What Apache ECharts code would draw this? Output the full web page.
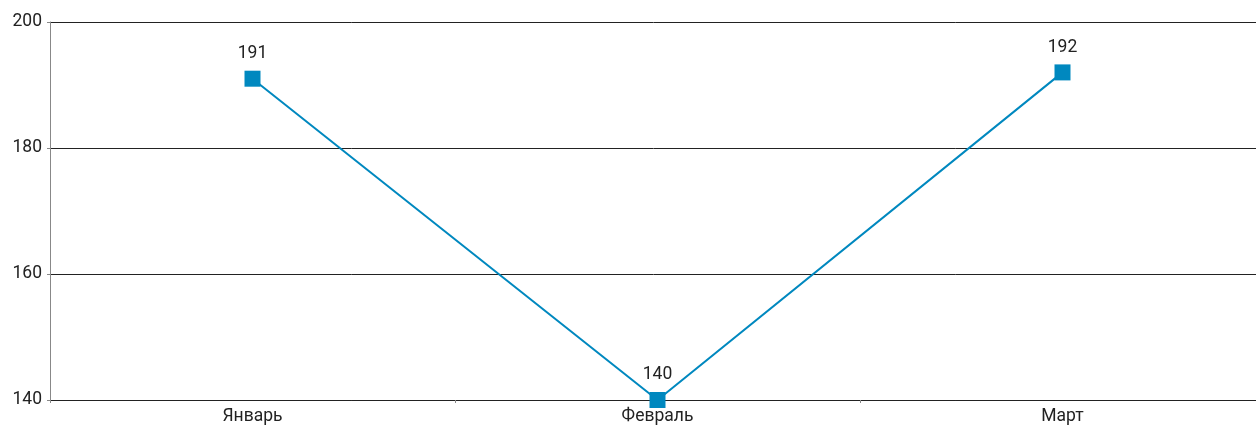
<!DOCTYPE html>
<html>
<head>
<meta charset="utf-8">
<style>
  html, body { margin: 0; padding: 0; background: #fff; }
  #chart { width: 1256px; height: 429px; }
</style>
<script src="https://cdn.jsdelivr.net/npm/echarts@6/dist/echarts.min.js"></script>
</head>
<body>
<div id="chart"></div>
<script>
// Monthly values, first quarter
const months = ['Январь', 'Февраль', 'Март'];
const values = [191, 140, 192];
const yTicks = { min: 140, max: 200, step: 20 };

const chart = echarts.init(document.getElementById('chart'), null, { renderer: 'canvas' });
const textFont = 'Roboto, "Noto Sans", sans-serif';
const textSize = 17.5;

chart.setOption({
  animation: false,
  backgroundColor: '#ffffff',
  grid: {
    left: 50, top: 22, width: 1215, height: 378,
    containLabel: false,
    outerBoundsMode: 'none'
  },
  xAxis: {
    type: 'category',
    data: months,
    boundaryGap: true,
    axisLine: { lineStyle: { color: '#222', width: 1 } },
    axisTick: { show: true, length: 3, lineStyle: { color: '#888' } },
    axisLabel: { color: '#222', fontSize: textSize, fontFamily: textFont, margin: 8 }
  },
  yAxis: {
    type: 'value',
    min: yTicks.min,
    max: yTicks.max,
    interval: yTicks.step,
    axisLine: { show: true, lineStyle: { color: '#888', width: 1 } },
    axisTick: { show: true, length: 3, lineStyle: { color: '#888' } },
    axisLabel: { color: '#222', fontSize: textSize, fontFamily: textFont, margin: 8 },
    splitLine: { show: true, lineStyle: { color: '#222', width: 1 } }
  },
  series: [{
    type: 'line',
    data: values,
    symbol: 'rect',
    symbolSize: 16,
    lineStyle: { color: '#0088bf', width: 2 },
    itemStyle: { color: '#0088bf' },
    label: {
      show: true,
      position: 'top',
      distance: 8,
      color: '#222',
      fontSize: textSize,
      fontFamily: textFont
    }
  }]
});
</script>
</body>
</html>
